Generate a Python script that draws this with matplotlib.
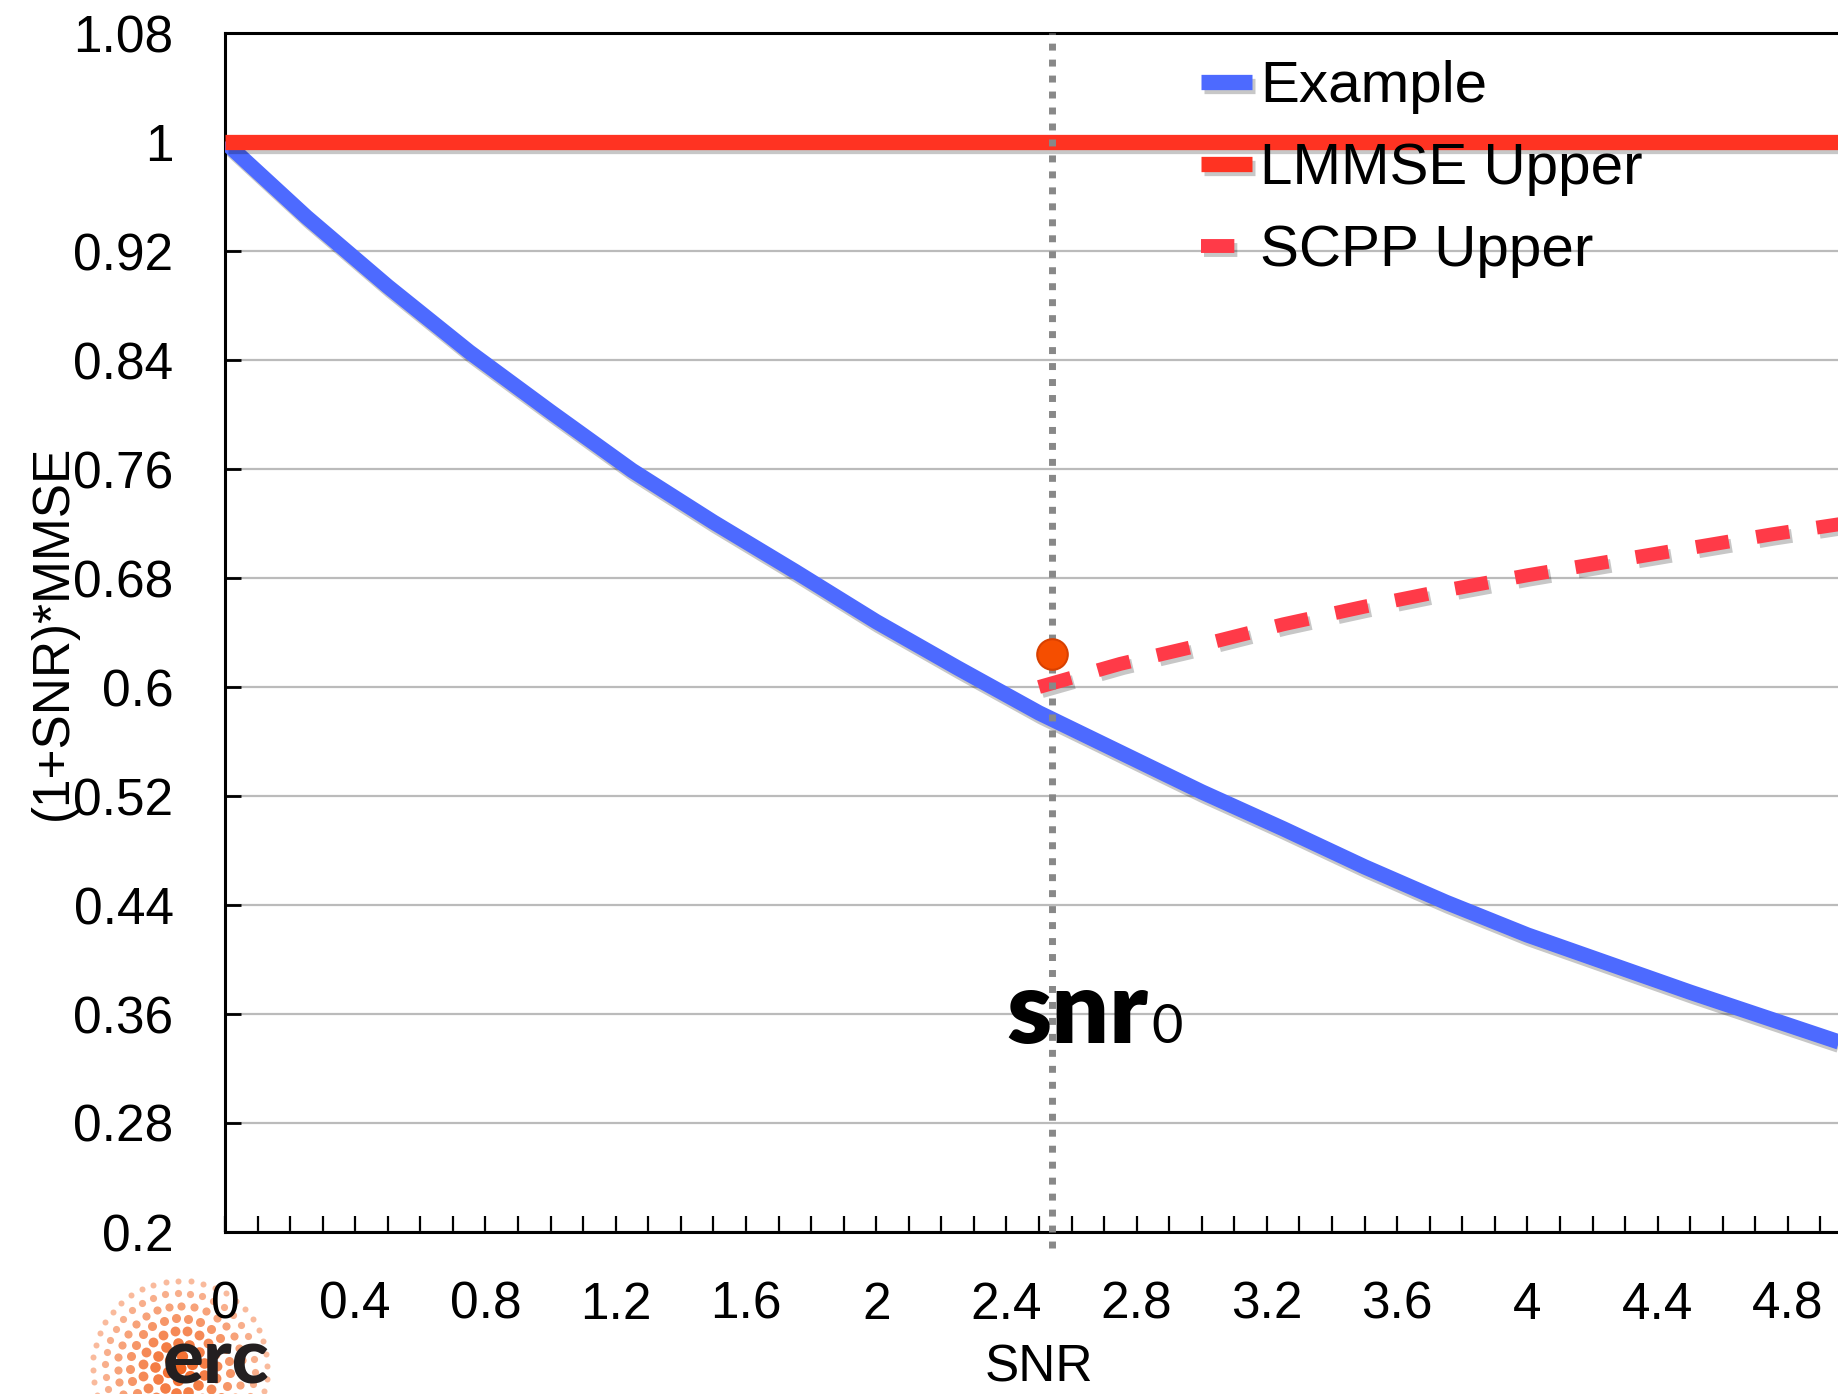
import matplotlib
matplotlib.use('Agg')
import matplotlib.pyplot as plt
import matplotlib.patheffects as pe
from matplotlib.ticker import MultipleLocator, FuncFormatter
import numpy as np

# curves
snr = [0.0, 0.25, 0.5, 0.75, 1.0, 1.25, 1.5, 1.75, 2.0, 2.25, 2.5,
       2.75, 3.0, 3.25, 3.5, 3.75, 4.0, 4.25, 4.5, 4.75, 5.0]
example_mmse = [1.000, 0.945, 0.894, 0.846, 0.802, 0.759, 0.721, 0.685, 0.648, 0.614, 0.581,
                0.552, 0.523, 0.496, 0.468, 0.442, 0.418, 0.397, 0.376, 0.356, 0.336]

lmmse_snr = [0.0, 5.0]
lmmse_upper = [1.0, 1.0]

scpp_snr = [2.5, 2.75, 3.0, 3.25, 3.5, 3.75, 4.0, 4.25, 4.5, 4.75, 5.0]
scpp_upper = [0.600, 0.617, 0.631, 0.646, 0.659, 0.671, 0.682, 0.692, 0.702, 0.712, 0.721]

snr0 = 2.54
snr0_value = 0.624

y_ticks = [0.2, 0.28, 0.36, 0.44, 0.52, 0.6, 0.68, 0.76, 0.84, 0.92, 1.0, 1.08]

BLUE = '#4D6AFF'
RED = '#FF3322'
PINK = '#FF3A48'

W, H = 1838, 1394
fig = plt.figure(figsize=(W / 100, H / 100), dpi=100)
plt.rcParams['font.family'] = ['Liberation Sans', 'DejaVu Sans']

ax = fig.add_axes([225 / W, 1 - 1232 / H, 1628 / W, 1199 / H])

shadow = [pe.SimpleLineShadow(offset=(2, -3), shadow_color='k', alpha=0.22), pe.Normal()]

ax.plot(snr, example_mmse, color=BLUE, lw=11, solid_capstyle='butt',
        solid_joinstyle='round', label='Example', path_effects=shadow, zorder=3)
ax.plot(lmmse_snr, lmmse_upper, color=RED, lw=11, solid_capstyle='butt',
        label='LMMSE Upper', path_effects=shadow, zorder=4)
ax.plot(scpp_snr, scpp_upper, color=PINK, lw=10, linestyle=(0, (2.4, 2.0)),
        dash_capstyle='butt', label='SCPP Upper', path_effects=shadow, zorder=4)

ax.axvline(snr0, ymin=-0.013, ymax=1.0, color='#888888', lw=5,
           linestyle=(0, (1.0, 1.3)), dash_capstyle='butt', clip_on=False, zorder=5)
ax.plot([snr0], [snr0_value], 'o', ms=22, mfc='#F54E00', mec='#D84000', mew=1.5, zorder=6)

snr_txt = ax.text(snr0 - 0.14, 0.339, 'snr', fontsize=73, fontweight='heavy',
                  family='Lato', ha='left', va='baseline', zorder=7)
ax.annotate('0', xy=(1, 0.339), xycoords=(snr_txt, 'data'), xytext=(2, 0),
            textcoords='offset points', fontsize=39, family='Lato',
            ha='left', va='baseline', zorder=7)

ax.set_xlim(0, 5)
ax.set_ylim(0.2, 1.08)
ax.set_yticks(y_ticks)
ax.xaxis.set_major_locator(MultipleLocator(0.4))
ax.xaxis.set_minor_locator(MultipleLocator(0.1))
fmt = FuncFormatter(lambda v, p: f'{round(v, 2):g}')
ax.xaxis.set_major_formatter(fmt)
ax.yaxis.set_major_formatter(fmt)

ax.yaxis.grid(True, color='#BBBBBB', lw=1.6)
ax.set_axisbelow(True)
ax.tick_params(axis='y', direction='in', length=11.5, width=2, pad=37, labelsize=37)
ax.tick_params(axis='x', which='both', direction='in', length=11.5, width=1.6,
               pad=35, labelsize=37)
for s in ax.spines.values():
    s.set_linewidth(2.2)

ax.set_ylabel('(1+SNR)*MMSE', fontsize=37)
ax.yaxis.set_label_coords(-(225 - 53) / 1628, 0.5)
ax.yaxis.label.set_rotation_mode('anchor')
ax.yaxis.label.set_va('center')
ax.set_xlabel('SNR', fontsize=37)
ax.xaxis.set_label_coords(0.5, -(1368 - 1232) / 1199)
ax.xaxis.label.set_va('center')

ax.legend(loc='upper left', bbox_to_anchor=(1201 / W, 1 - 60 / H),
          bbox_transform=fig.transFigure, frameon=False, fontsize=42,
          handlelength=0.88, handletextpad=0.14, labelspacing=0.48,
          borderpad=0, borderaxespad=0)

# erc logo in the lower left corner
logo = fig.add_axes([80 / W, (H - 1368 - 100) / H, 200 / W, 200 / H])
logo.set_zorder(-1)
logo.set_xlim(-1, 1)
logo.set_ylim(-1, 1)
logo.axis('off')
for k in range(8):
    r = k * 0.125
    n = max(1, int(round(2 * np.pi * r / 0.125)))
    ang = np.linspace(0, 2 * np.pi, n, endpoint=False) + k * 0.35
    fade = 1 - r / 0.95
    logo.scatter(r * np.cos(ang), r * np.sin(ang), s=14 + 60 * fade,
                 color='#F26522', alpha=0.4 + 0.6 * fade, lw=0, clip_on=False)
logo.text(-0.17, -0.16, 'erc', fontsize=55, fontweight='black', family='Lato',
          color='#231F20', ha='left', va='baseline', clip_on=False)

fig.savefig('out.png', dpi=100, facecolor='white')
